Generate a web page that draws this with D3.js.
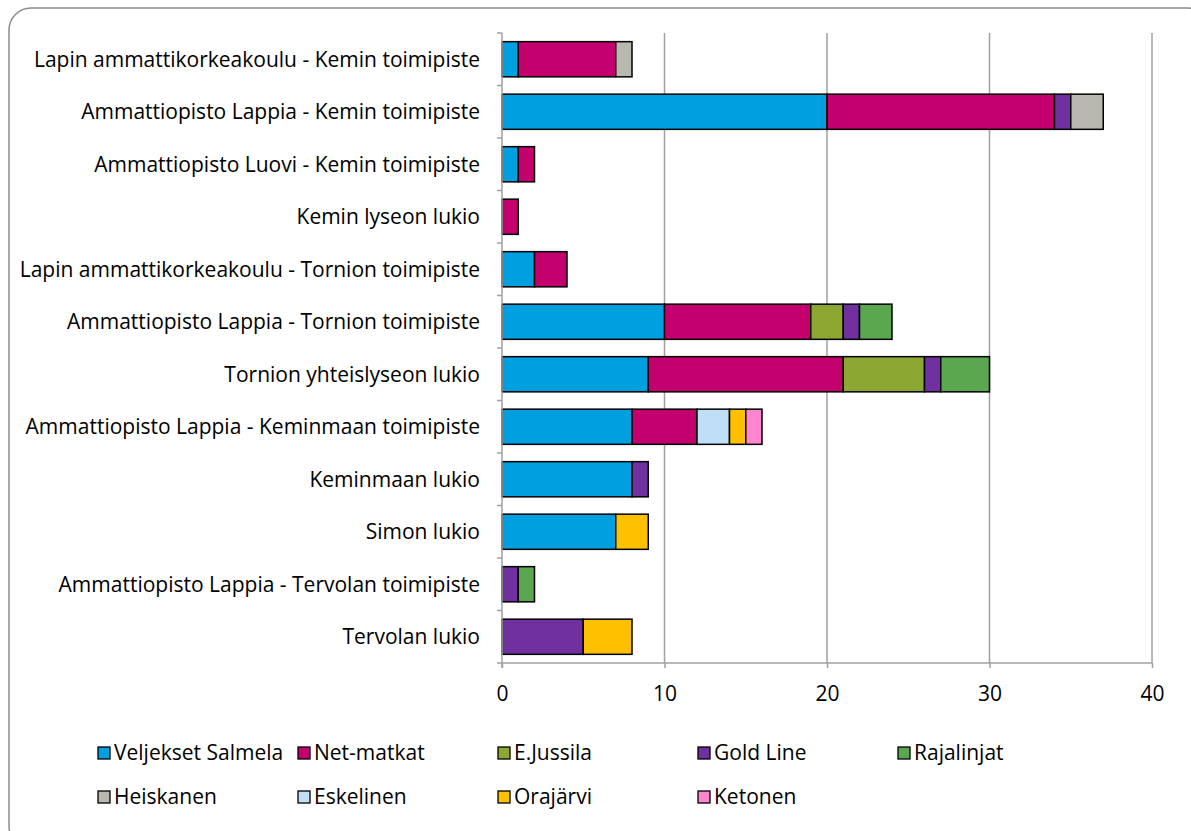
<!DOCTYPE html>
<html><head><meta charset="utf-8">
<script src="https://cdn.jsdelivr.net/npm/d3@7"></script>
<style>body{margin:0;background:#fff}svg{display:block}</style>
</head><body>
<script>
const categories = [
  "Lapin ammattikorkeakoulu - Kemin toimipiste",
  "Ammattiopisto Lappia - Kemin toimipiste",
  "Ammattiopisto Luovi - Kemin toimipiste",
  "Kemin lyseon lukio",
  "Lapin ammattikorkeakoulu - Tornion toimipiste",
  "Ammattiopisto Lappia - Tornion toimipiste",
  "Tornion yhteislyseon lukio",
  "Ammattiopisto Lappia - Keminmaan toimipiste",
  "Keminmaan lukio",
  "Simon lukio",
  "Ammattiopisto Lappia - Tervolan toimipiste",
  "Tervolan lukio"
];
const seriesNames = ["Veljekset Salmela","Net-matkat","E.Jussila","Gold Line","Rajalinjat","Heiskanen","Eskelinen","Orajärvi","Ketonen"];
const seriesColors = ["#009FE0","#C4006F","#8CA832","#7030A0","#5BA750","#B8B8AE","#C0DEF5","#FFC000","#FF85D0"];
const salmela   = [1,20,1,0,2,10,9,8,8,7,0,0];
const netmatkat = [6,14,1,1,2,9,12,4,0,0,0,0];
const jussila   = [0,0,0,0,0,2,5,0,0,0,0,0];
const goldline  = [0,1,0,0,0,1,1,0,1,0,1,5];
const rajalinjat= [0,0,0,0,0,2,3,0,0,0,1,0];
const heiskanen = [1,2,0,0,0,0,0,0,0,0,0,0];
const eskelinen = [0,0,0,0,0,0,0,2,0,0,0,0];
const orajarvi  = [0,0,0,0,0,0,0,1,0,2,0,3];
const ketonen   = [0,0,0,0,0,0,0,1,0,0,0,0];
const xTicks = [0,10,20,30,40];

const seriesValues = [salmela,netmatkat,jussila,goldline,rajalinjat,heiskanen,eskelinen,orajarvi,ketonen];
const table = categories.map((c,i)=>{const o={cat:c}; seriesNames.forEach((s,j)=>o[s]=seriesValues[j][i]); return o;});

const W=1191,H=831;
const svg=d3.select("body").append("svg").attr("width",W).attr("height",H);
svg.append("rect").attr("x",9).attr("y",8).attr("width",1200).attr("height",840).attr("rx",22)
  .attr("fill","#fff").attr("stroke","#8c8c8c").attr("stroke-width",1.5);

const pL=502,pR=1152,pT=33,pB=663;
const x=d3.scaleLinear().domain([0,40]).range([pL,pR]);
const y=d3.scaleBand().domain(categories).range([pT,pB]).paddingInner(0.33).paddingOuter(0.165);
const font="'Open Sans', 'Noto Sans', sans-serif";
const fs=21;

svg.append("g").selectAll("line").data(xTicks.filter(t=>t>0)).join("line")
  .attr("x1",d=>x(d)).attr("x2",d=>x(d)).attr("y1",pT).attr("y2",pB)
  .attr("stroke","#a0a0a0").attr("stroke-width",1.5);

const stack=d3.stack().keys(seriesNames)(table);
const g=svg.append("g");
stack.forEach((layer,j)=>{
  g.append("g").selectAll("rect").data(layer.filter(d=>d[1]-d[0]>0)).join("rect")
    .attr("x",d=>x(d[0])).attr("width",d=>x(d[1])-x(d[0]))
    .attr("y",d=>y(d.data.cat)).attr("height",y.bandwidth())
    .attr("fill",seriesColors[j]).attr("stroke","#000").attr("stroke-width",1.5);
});

const xa=svg.append("g").attr("transform",`translate(0,${pB})`)
  .call(d3.axisBottom(x).tickValues(xTicks).tickSize(5).tickPadding(18));
xa.select(".domain").attr("stroke","#a0a0a0").attr("stroke-width",1.5).attr("d",`M${pL-5},0H${pR}`);
xa.selectAll(".tick line").attr("stroke","#a0a0a0").attr("stroke-width",1.5);
xa.selectAll("text").attr("font-family",font).attr("font-size",fs).attr("fill","#000");

const ya=svg.append("g");
ya.append("line").attr("x1",pL).attr("x2",pL).attr("y1",pT).attr("y2",pB+5)
  .attr("stroke","#a0a0a0").attr("stroke-width",1.5);
const step=y.step();
ya.selectAll("line.t").data(d3.range(categories.length)).join("line").attr("class","t")
  .attr("x1",pL-5).attr("x2",pL).attr("y1",i=>pT+i*step).attr("y2",i=>pT+i*step)
  .attr("stroke","#a0a0a0").attr("stroke-width",1.5);
ya.selectAll("text").data(categories).join("text")
  .attr("x",pL-22).attr("y",d=>y(d)+y.bandwidth()/2).attr("dy","0.35em")
  .attr("text-anchor","end").attr("font-family",font).attr("font-size",fs).text(d=>d);

const lg=svg.append("g");
seriesNames.forEach((s,i)=>{
  const col=i%5,row=Math.floor(i/5);
  const lx=98+col*200, ly=753+row*44;
  lg.append("rect").attr("x",lx).attr("y",ly-6).attr("width",12).attr("height",12)
    .attr("fill",seriesColors[i]).attr("stroke","#000").attr("stroke-width",1.3);
  lg.append("text").attr("x",lx+16).attr("y",ly).attr("dy","0.35em")
    .attr("font-family",font).attr("font-size",fs).text(s);
});
</script>
</body></html>
